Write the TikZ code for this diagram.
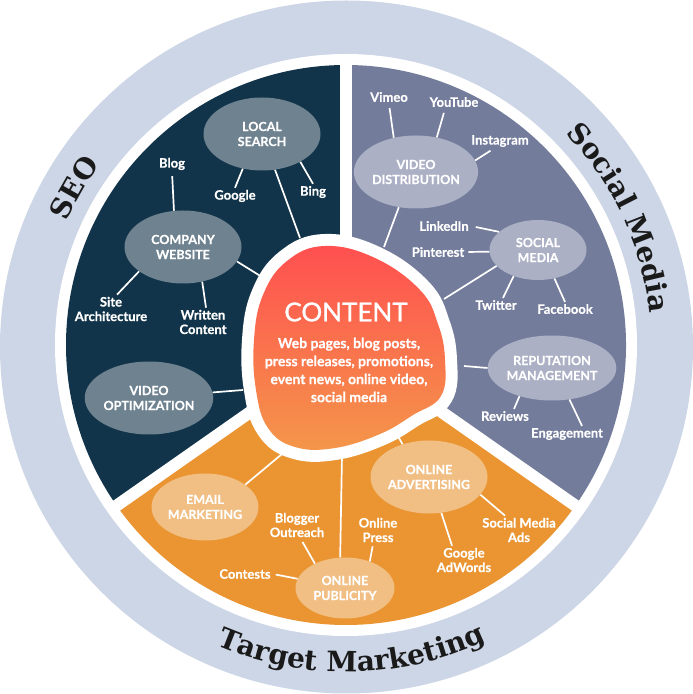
\documentclass[tikz,border=0pt]{standalone}
\usepackage{fontspec}
\setmainfont{Lato}[FakeBold=0.5]
\newfontfamily\ringfont{DejaVu Serif}
\newfontfamily\titlefont{Lato}[FakeBold=1.2]
\usetikzlibrary{shapes.geometric,decorations.text}
\definecolor{ringbg}{HTML}{CDD6E6}
\definecolor{seobg}{HTML}{12344A}
\definecolor{seoell}{HTML}{6E8290}
\definecolor{smbg}{HTML}{737C9B}
\definecolor{smell}{HTML}{ABB0C5}
\definecolor{tmbg}{HTML}{EA9532}
\definecolor{tmell}{HTML}{F1BE84}
\definecolor{ctop}{HTML}{FF5050}
\definecolor{cbot}{HTML}{F4964A}
\definecolor{ringtext}{HTML}{1A1A1A}
\newcommand\ringtxt{\ringfont\bfseries\fontsize{28}{28}\selectfont}
\begin{document}
\begin{tikzpicture}[x=1pt,y=1pt,
  leaf/.style={text=white, font=\bfseries\fontsize{13}{14.5}\selectfont, align=center, inner sep=2pt},
  hub/.style={ellipse, text=white, font=\bfseries\fontsize{12.5}{15}\selectfont, align=center, inner sep=0pt},
  seohub/.style={hub, fill=seoell, minimum width=117, minimum height=73},
  smhub/.style={hub, fill=smell},
  tmhub/.style={hub, fill=tmell},
  link/.style={draw=white, line width=1.7pt},
  gap/.style={white, line width=12pt},
  ringlabel/.style={decorate, decoration={text along path, text align=center, text color=ringtext}}
]
\useasboundingbox (0,0) rectangle (693,694);
\coordinate (C) at (346,349);
% outer ring and disk
\fill[ringbg] (346.5,347) circle[radius=346.5];
\fill[white] (C) circle[radius=291];
\fill[smbg] (C) -- ++(-35:280) arc[start angle=-35, end angle=90, radius=280] -- cycle;
\fill[seobg] (C) -- ++(90:280) arc[start angle=90, end angle=215, radius=280] -- cycle;
\fill[tmbg] (C) -- ++(215:280) arc[start angle=215, end angle=325, radius=280] -- cycle;
\draw[gap] (C) -- ++(90:286);
\draw[gap] (C) -- ++(215:286);
\draw[gap] (C) -- ++(325:286);
% ring texts
\path[ringlabel, decoration={text={|\ringtxt|SEO}}] (C) ++(175:305) arc[start angle=175, end angle=125, radius=305];
\path[ringlabel, decoration={text={|\ringtxt|Social Media}}] (C) ++(75:305) arc[start angle=75, end angle=-25, radius=305];
\path[ringlabel, decoration={text={|\ringtxt|Target Marketing}}] (C) ++(211:327) arc[start angle=211, end angle=331, radius=327];
% content blob
\draw[white, line width=24pt, line join=round] plot[smooth cycle, tension=0.7] coordinates {(325,448) (375,436) (420,404) (438,370) (445,334) (441,298) (413,279) (380,260) (335,246) (295,247) (268,266) (256,304) (254,354) (263,399) (287,433)};
\shade[top color=ctop, bottom color=cbot] plot[smooth cycle, tension=0.7] coordinates {(325,448) (375,436) (420,404) (438,370) (445,334) (441,298) (413,279) (380,260) (335,246) (295,247) (268,266) (256,304) (254,354) (263,399) (287,433)};
\node[text=white, font=\titlefont\fontsize{26}{26}\selectfont, inner sep=0pt] (ct) at (346,382) {CONTENT};
\node[text=white, font=\bfseries\fontsize{14}{18}\selectfont, align=center, inner sep=0pt] (cd) at (349,324) {Web pages, blog posts,\\press releases, promotions,\\event news, online video,\\social media};
% blob connection points
\coordinate (cLS) at (300,456);
\coordinate (cCW) at (262,417);
\coordinate (cVO) at (243,304);
\coordinate (cVD) at (384,447);
\coordinate (cSM) at (444,395);
\coordinate (cRM) at (464,328);
\coordinate (cOA) at (394,265);
\coordinate (cEM) at (282,240);
\coordinate (cOP) at (342,239);
% hubs
\node[seohub] (ls) at (262,560) {LOCAL\\SEARCH};
\node[seohub] (cw) at (183,447) {COMPANY\\WEBSITE};
\node[seohub] (vo) at (149,296) {VIDEO\\OPTIMIZATION};
\node[smhub, minimum width=116, minimum height=73] (vd) at (416,522) {VIDEO\\DISTRIBUTION};
\node[smhub, minimum width=97, minimum height=60] (sm) at (538,444) {SOCIAL\\MEDIA};
\node[smhub, minimum width=113, minimum height=65] (rm) at (552,326) {REPUTATION\\MANAGEMENT};
\node[tmhub, minimum width=107, minimum height=67] (em) at (205,187) {EMAIL\\MARKETING};
\node[tmhub, minimum width=99, minimum height=61] (op) at (345,106) {ONLINE\\PUBLICITY};
\node[tmhub, minimum width=117, minimum height=73] (oa) at (429,217) {ONLINE\\ADVERTISING};
% leaves
\node[leaf] (blog) at (172,530) {Blog};
\node[leaf] (google) at (235,498) {Google};
\node[leaf] (bing) at (313,502) {Bing};
\node[leaf] (sa) at (111,385) {Site\\Architecture};
\node[leaf] (wc) at (203,372) {Written\\Content};
\node[leaf] (vimeo) at (389,597) {Vimeo};
\node[leaf] (yt) at (454,592) {YouTube};
\node[leaf] (ig) at (500,553) {Instagram};
\node[leaf] (li) at (444,468) {LinkedIn};
\node[leaf] (pin) at (438,442) {Pinterest};
\node[leaf] (tw) at (496,389) {Twitter};
\node[leaf] (fb) at (565,385) {Facebook};
\node[leaf] (rev) at (505,278) {Reviews};
\node[leaf] (eng) at (567,260) {Engagement};
\node[leaf] (bo) at (297,169) {Blogger\\Outreach};
\node[leaf] (con) at (245,120) {Contests};
\node[leaf] (press) at (378,164) {Online\\Press};
\node[leaf] (gaw) at (464,134) {Google\\AdWords};
\node[leaf] (sma) at (519,164) {Social Media\\Ads};
% links
\draw[link] (ls.241) -- (google.north);
\draw[link] (ls.324) -- (bing.north);
\draw[link] (ls.-70) -- (cLS);
\draw[link, shorten <=4pt] (blog.south) -- (cw.104);
\draw[link] (cw.209) -- ([xshift=6pt]sa.north);
\draw[link] (cw.-61) -- ([xshift=3pt]wc.north);
\draw[link] (cw.-15) -- (cCW);
\draw[link] (vo.5) -- (cVO);
\draw[link, shorten >=4pt] (vd.123) -- (vimeo.south);
\draw[link, shorten >=4pt] (vd.59) -- ([xshift=-9pt]yt.south);
\draw[link, shorten >=3pt] (vd.11) -- ([xshift=-7pt]ig.south);
\draw[link] (vd.244) -- (cVD);
\draw[link, shorten >=5pt] (sm.155) -- (li.east);
\draw[link, shorten >=2pt] (sm.182) -- (pin.east);
\draw[link] (sm.227) -- ([xshift=7pt]tw.north);
\draw[link] (sm.-60) -- (fb.north);
\draw[link] (sm.201) -- (cSM);
\draw[link] (rm.180) -- (cRM);
\draw[link] (rm.221) -- ([xshift=9pt]rev.north);
\draw[link] (rm.-61) -- ([xshift=15pt]eng.north);
\draw[link] (oa.129) -- (cOA);
\draw[link] (oa.-19) -- ([xshift=-14pt]sma.north);
\draw[link] (oa.-71) -- ([xshift=-12pt]gaw.north);
\draw[link] (em.29) -- (cEM);
\draw[link] (op.99) -- (cOP);
\draw[link, shorten >=3pt] (op.141) -- ([xshift=4pt]bo.south);
\draw[link, shorten >=3pt] (op.169) -- (con.east);
\draw[link, shorten >=2pt] (op.47) -- ([xshift=-5pt]press.south);
\end{tikzpicture}
\end{document}
